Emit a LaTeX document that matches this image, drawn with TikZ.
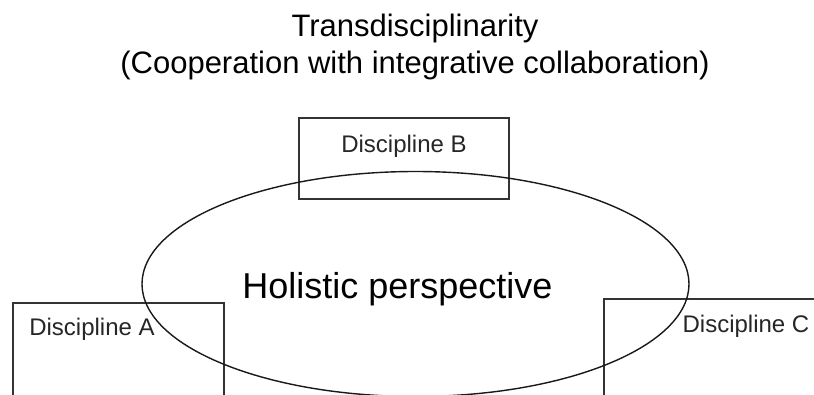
\documentclass[tikz,border=0pt]{standalone}
\usepackage{fontspec}
\setmainfont{Liberation Sans}

\tikzset{
  boxline/.style={draw=black!80, line width=1.4pt},
  disclabel/.style={anchor=base, text=black!85, font=\fontsize{24}{28}\selectfont, inner sep=0pt}
}

\begin{document}
\begin{tikzpicture}[x=1pt,y=-1pt]
	%%%%% START %%%%%
	\def\picw{814}
	\def\pich{394}
	\def\ecx{415.5}
	\def\ecy{284}
	\def\erx{273.5}
	\def\ery{112.5}

	\useasboundingbox (0,0) rectangle (\picw,\pich);
	\clip (0,0) rectangle (\picw,\pich);

	\node[align=center, font=\fontsize{31}{37}\selectfont, inner sep=0pt] (title) at (415,47)
		{Transdisciplinarity\\(Cooperation with integrative collaboration)};

	% the three disciplines
	\draw[boxline] (13,303) rectangle (224,\pich+10);
	\draw[boxline] (299,118) rectangle (509,199);
	\draw[boxline] (604,299) rectangle (\picw+10,\pich+10);

	\node[disclabel] (discA) at (92,335) {Discipline A};
	\node[disclabel] (discB) at (404,152) {Discipline B};
	\node[disclabel] (discC) at (746,332) {Discipline C};

	% the shared view
	\draw[boxline, draw=black!90] (\ecx,\ecy) ellipse ({\erx} and {\ery});
	\node[anchor=base, font=\fontsize{36}{40}\selectfont, inner sep=0pt] (holistic) at (397.5,298) {Holistic perspective};
	%%%%% END %%%%%
\end{tikzpicture}
\end{document}
